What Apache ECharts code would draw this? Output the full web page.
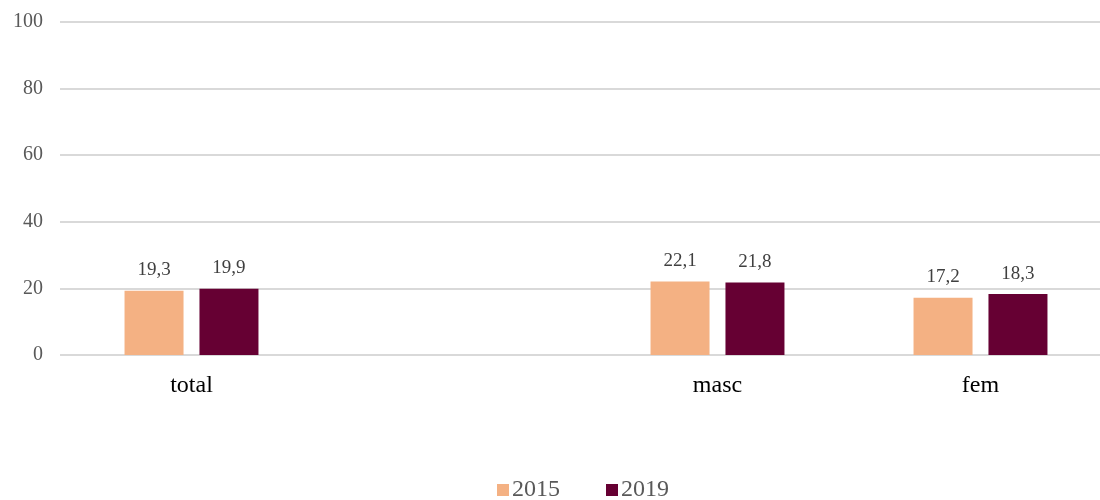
<!DOCTYPE html>
<html>
<head>
<meta charset="utf-8">
<script src="https://cdn.jsdelivr.net/npm/echarts@6/dist/echarts.min.js"></script>
<style>
  html, body { margin: 0; padding: 0; background: #fff; }
  #chart { width: 1100px; height: 500px; }
</style>
</head>
<body>
<div id="chart"></div>
<script>
// Category slots; the blank slot keeps the gap between "total" and the sex breakdown
const categories = ['total', '', 'masc', 'fem'];
const values2015 = [19.3, null, 22.1, 17.2];
const values2019 = [19.9, null, 21.8, 18.3];
const seriesNames = ['2015', '2019'];
const yTicks = [0, 20, 40, 60, 80, 100];

const serif = '"Liberation Serif", "DejaVu Serif", serif';
const fmt = p => (p.value == null ? '' : String(p.value).replace('.', ','));

const labelStyle = {
  show: true,
  position: 'top',
  distance: 11,
  fontFamily: serif,
  fontSize: 19,
  color: '#404040',
  formatter: fmt
};

const chart = echarts.init(document.getElementById('chart'));
chart.setOption({
  animation: false,
  grid: { left: 60, top: 22, right: -12, height: 333, containLabel: false, outerBoundsMode: 'none' },
  legend: {
    data: seriesNames,
    bottom: -7,
    left: 492,
    itemWidth: 12,
    itemHeight: 12,
    itemGap: 46,
    icon: 'rect',
    textStyle: { fontFamily: serif, fontSize: 24, color: '#595959', padding: [0, 0, 0, -2] }
  },
  xAxis: {
    type: 'category',
    data: categories,
    axisLine: { show: false },
    axisTick: { show: false },
    axisLabel: { fontFamily: serif, fontSize: 24, color: '#000', margin: 19 }
  },
  yAxis: {
    type: 'value',
    min: yTicks[0],
    max: yTicks[yTicks.length - 1],
    interval: 20,
    axisLine: { show: false },
    axisTick: { show: false },
    axisLabel: { fontFamily: serif, fontSize: 20, color: '#595959', margin: 17 },
    splitLine: { lineStyle: { color: '#d9d9d9', width: 2 } }
  },
  series: [
    {
      name: seriesNames[0],
      type: 'bar',
      data: values2015,
      barWidth: 59,
      barGap: '27%',
      itemStyle: { color: '#F4B183' },
      label: labelStyle
    },
    {
      name: seriesNames[1],
      type: 'bar',
      data: values2019,
      barWidth: 59,
      barGap: '27%',
      itemStyle: { color: '#660033' },
      label: labelStyle
    }
  ]
});
</script>
</body>
</html>
